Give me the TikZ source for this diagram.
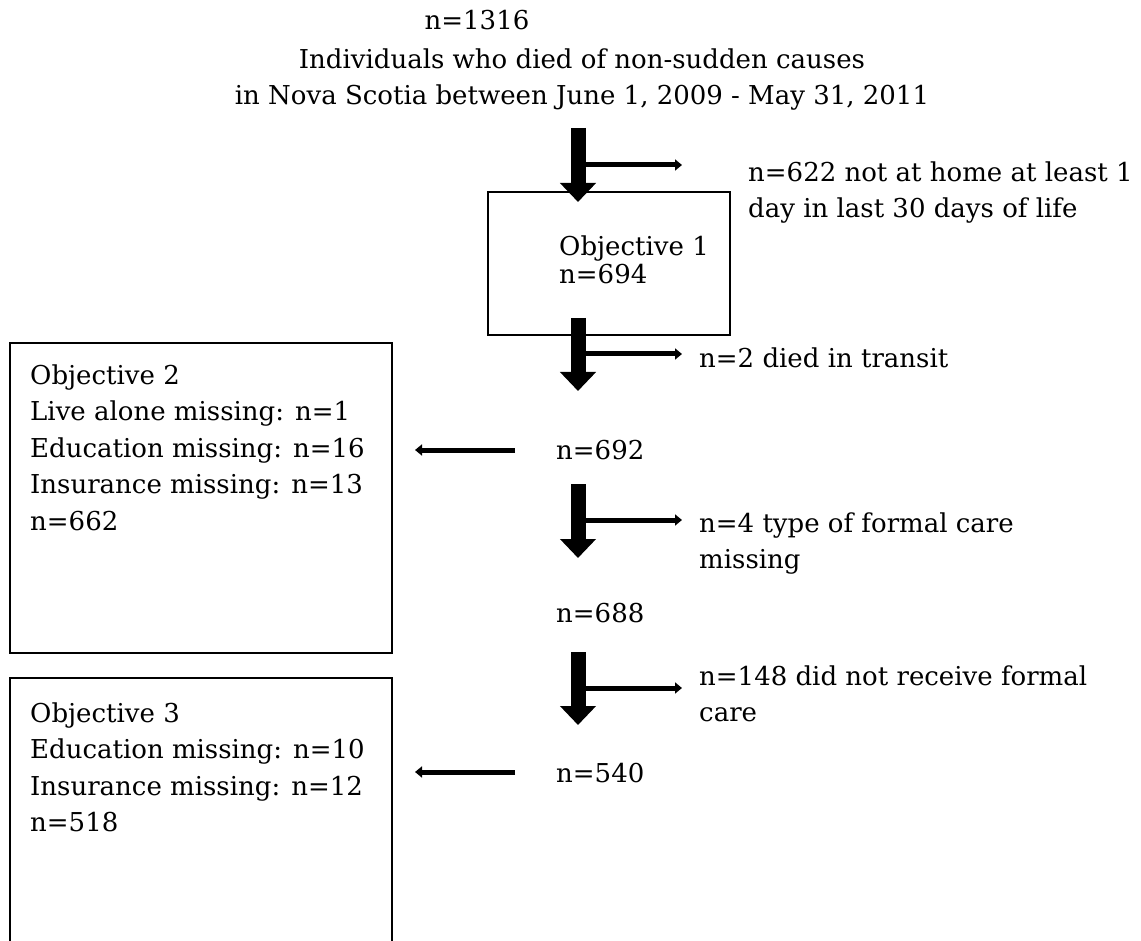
\documentclass[tikz,border=0pt]{standalone}
\usepackage{fontspec}
\setmainfont{DejaVu Serif}
\usetikzlibrary{arrows.meta}

\begin{document}
\begin{tikzpicture}[x=1pt, y=-1pt,
    txt/.style={inner sep=0pt, font=\fontsize{26}{36.5}\selectfont, align=left},
    objbox/.style={draw, line width=2.2pt, inner sep=0pt},
    bigarrow/.style={line width=15pt, -{Triangle[length=19pt, width=35pt]}},
    sidearrow/.style={line width=5pt, -{Triangle[length=7pt, width=11pt]}}]
    \useasboundingbox (0,0) rectangle (1141,941);
    \clip (0,0) rectangle (1141,941);

    % Study population
    \node[txt, anchor=base] (total) at (477,30) {n=1316};
    \node[txt, anchor=north, align=center] (pop) at (582,42.5) {\strut Individuals who died of non-sudden causes\\in Nova Scotia between June 1, 2009 - May 31, 2011};

    % Objective boxes
    \node[objbox, minimum width=242pt, minimum height=143pt] (obj1) at (609,263.5) {};
    \node[objbox, minimum width=382pt, minimum height=310pt] (obj2) at (201,498) {};
    \node[objbox, minimum width=382pt, minimum height=422pt] (obj3) at (201,889) {};

    \node[txt, font=\fontsize{26}{28.5}\selectfont, anchor=north west] (obj1txt) at (559,235) {\strut Objective 1\\n=694};
    \node[txt, anchor=north west] (obj2txt) at (30,358.5) {\strut Objective 2\\Live alone missing: n=1\\Education missing: n=16\\Insurance missing: n=13\\n=662};
    \node[txt, anchor=north west] (obj3txt) at (30,696.5) {\strut Objective 3\\Education missing: n=10\\Insurance missing: n=12\\n=518};

    % Remaining counts
    \node[txt, anchor=base west] (n692) at (556,459) {n=692};
    \node[txt, anchor=base west] (n688) at (556,622) {n=688};
    \node[txt, anchor=base west] (n540) at (556,782) {n=540};

    % Exclusions
    \node[txt, anchor=north west] (excl1) at (748,155.5) {\strut n=622 not at home at least 1\\day in last 30 days of life};
    \node[txt, anchor=base west] (excl2) at (699,367) {n=2 died in transit};
    \node[txt, anchor=north west] (excl3) at (699,506.5) {\strut n=4 type of formal care\\missing};
    \node[txt, anchor=north west] (excl4) at (699,659.5) {\strut n=148 did not receive formal\\care};

    % Arrow ends
    \coordinate (d1a) at (578,128); \coordinate (d1b) at (578,202);
    \coordinate (d2a) at (578,318); \coordinate (d2b) at (578,391);
    \coordinate (d3a) at (578,484); \coordinate (d3b) at (578,558);
    \coordinate (d4a) at (578,652); \coordinate (d4b) at (578,725);
    \coordinate (s1) at (578,165); \coordinate (s1e) at (682,165);
    \coordinate (s2) at (578,354); \coordinate (s2e) at (682,354);
    \coordinate (s3) at (578,520); \coordinate (s3e) at (682,520);
    \coordinate (s4) at (578,688); \coordinate (s4e) at (682,688);
    \coordinate (l1) at (515,450); \coordinate (l1e) at (415,450);
    \coordinate (l2) at (515,772); \coordinate (l2e) at (415,772);

    % Flow arrows
    \draw[bigarrow] (d1a) -- (d1b);
    \draw[bigarrow] (d2a) -- (d2b);
    \draw[bigarrow] (d3a) -- (d3b);
    \draw[bigarrow] (d4a) -- (d4b);
    \draw[sidearrow] (s1) -- (s1e);
    \draw[sidearrow] (s2) -- (s2e);
    \draw[sidearrow] (s3) -- (s3e);
    \draw[sidearrow] (s4) -- (s4e);
    \draw[sidearrow] (l1) -- (l1e);
    \draw[sidearrow] (l2) -- (l2e);
\end{tikzpicture}
\end{document}
